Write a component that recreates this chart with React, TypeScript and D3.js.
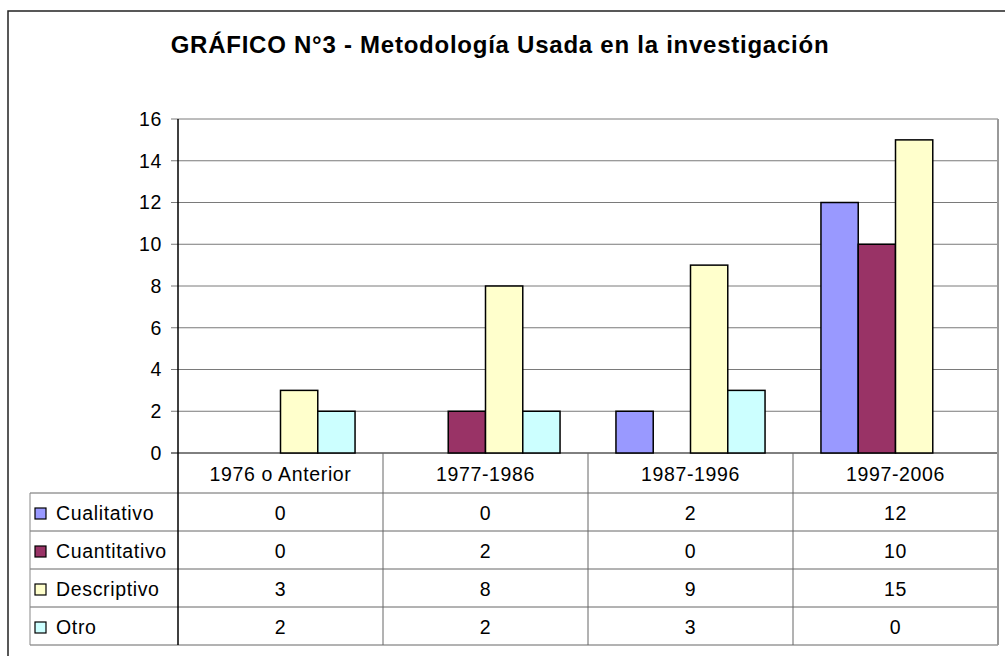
import React from 'react';
import * as d3 from 'd3';

const categories = ['1976 o Anterior', '1977-1986', '1987-1996', '1997-2006'];
const seriesNames = ['Cualitativo', 'Cuantitativo', 'Descriptivo', 'Otro'];
const cualitativo = [0, 0, 2, 12];
const cuantitativo = [0, 2, 0, 10];
const descriptivo = [3, 8, 9, 15];
const otro = [2, 2, 3, 0];
const yTicks = [0, 2, 4, 6, 8, 10, 12, 14, 16];
const colors = ['#9999FF', '#993366', '#FFFFCC', '#CCFFFF'];

const series = [cualitativo, cuantitativo, descriptivo, otro];

const App: React.FC = () => {
  const W = 1005;
  const H = 656;
  const left = 178;
  const right = 998;
  const top = 119;
  const bottom = 453;
  const tableLeft = 30;
  const headerBottom = 493;
  const rowH = 38;
  const font = "'Liberation Sans', Arial, sans-serif";
  const fs = 19.5;
  const ls = 0.65;

  const x0 = d3.scaleBand<string>().domain(categories).range([left, right]);
  const x1 = d3
    .scaleBand<string>()
    .domain(seriesNames)
    .range([0, x0.bandwidth()])
    .paddingInner(0)
    .paddingOuter(0.75);
  const y = d3.scaleLinear().domain([0, 16]).range([bottom, top]);

  const tableBottom = headerBottom + rowH * seriesNames.length;

  return (
    <svg
      width={W}
      height={H}
      style={{ position: 'absolute', left: 0, top: 0, background: '#fff' }}
      fontFamily={font}
    >
      {/* outer border */}
      <rect x={8} y={11} width={W + 20} height={H + 20} fill="#fff" stroke="#222" strokeWidth={1.5} />

      <text x={500} y={53} textAnchor="middle" fontSize={24} fontWeight="bold" letterSpacing={0.75} fill="#000">
        GRÁFICO N°3 - Metodología Usada en la investigación
      </text>

      {/* gridlines */}
      {yTicks.map((t) => (
        <line key={t} x1={left - 7} x2={right} y1={y(t)} y2={y(t)} stroke={t === 0 ? '#000' : '#7a7a7a'} strokeWidth={1} />
      ))}
      <line x1={right} x2={right} y1={top} y2={bottom} stroke="#999" strokeWidth={2} />

      {/* tick labels */}
      {yTicks.map((t) => (
        <text key={t} x={162} y={y(t)} dy="0.35em" textAnchor="end" fontSize={fs} letterSpacing={ls} fill="#000">
          {t}
        </text>
      ))}

      {/* bars */}
      {categories.map((c, ci) => (
        <g key={c} transform={`translate(${x0(c)},0)`}>
          {seriesNames.map((s, si) => {
            const v = series[si][ci];
            if (v === 0) return null;
            return (
              <rect
                key={s}
                x={x1(s)}
                y={y(v)}
                width={x1.bandwidth()}
                height={y(0) - y(v)}
                fill={colors[si]}
                stroke="#000"
                strokeWidth={1.5}
              />
            );
          })}
        </g>
      ))}

      {/* data table */}
      {seriesNames.map((s, si) => (
        <line
          key={s}
          x1={tableLeft}
          x2={right}
          y1={headerBottom + rowH * si}
          y2={headerBottom + rowH * si}
          stroke="#666"
          strokeWidth={1}
        />
      ))}
      <line x1={tableLeft} x2={right} y1={tableBottom} y2={tableBottom} stroke="#666" strokeWidth={1} />
      <line x1={tableLeft} x2={tableLeft} y1={headerBottom} y2={tableBottom} stroke="#888" strokeWidth={1} />
      {categories.map((c, ci) =>
        ci === 0 ? null : (
          <line key={c} x1={x0(c)} x2={x0(c)} y1={bottom} y2={tableBottom} stroke="#666" strokeWidth={1} />
        )
      )}
      <line x1={right} x2={right} y1={bottom} y2={tableBottom} stroke="#999" strokeWidth={2} />
      <line x1={left} x2={left} y1={top} y2={tableBottom} stroke="#000" strokeWidth={1.5} />

      {categories.map((c) => (
        <text
          key={c}
          x={(x0(c) || 0) + x0.bandwidth() / 2}
          y={(bottom + headerBottom) / 2 + 1}
          dy="0.35em"
          textAnchor="middle"
          fontSize={fs}
          letterSpacing={ls}
          fill="#000"
        >
          {c}
        </text>
      ))}

      {seriesNames.map((s, si) => {
        const cy = headerBottom + rowH * si + rowH / 2 + 1;
        return (
          <g key={s}>
            <rect x={35} y={cy - 5} width={11} height={11} fill={colors[si]} stroke="#000" strokeWidth={1.2} />
            <text x={56} y={cy} dy="0.35em" fontSize={fs} letterSpacing={ls} fill="#000">
              {s}
            </text>
            {categories.map((c, ci) => (
              <text
                key={c}
                x={(x0(c) || 0) + x0.bandwidth() / 2}
                y={cy}
                dy="0.35em"
                textAnchor="middle"
                fontSize={fs}
                letterSpacing={ls}
                fill="#000"
              >
                {series[si][ci]}
              </text>
            ))}
          </g>
        );
      })}
    </svg>
  );
};

export default App;
